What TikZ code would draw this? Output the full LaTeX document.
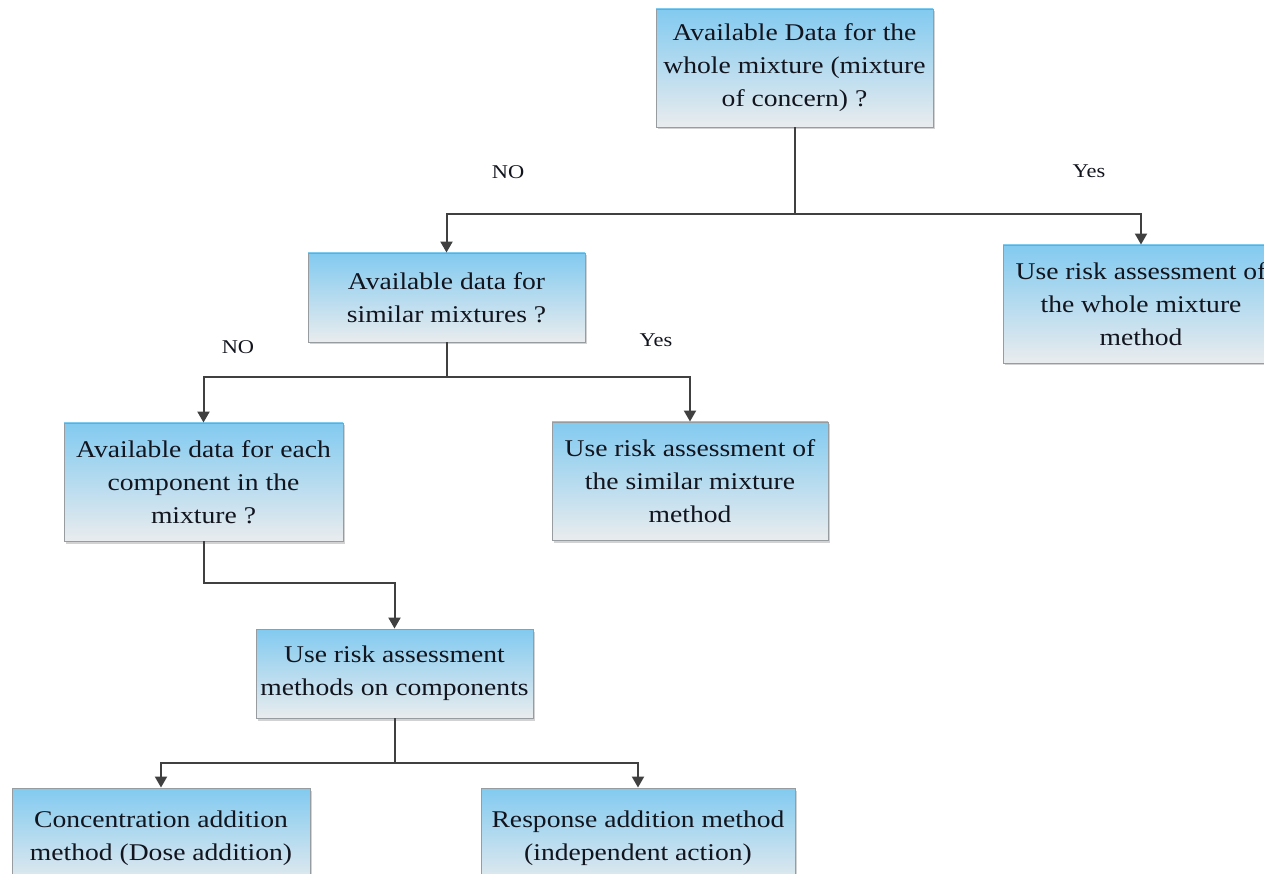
\documentclass[tikz,border=0pt]{standalone}
\usepackage{fontspec}
\setmainfont{Liberation Serif}[FakeStretch=1.15]
\usetikzlibrary{arrows.meta,shadows}

\definecolor{boxtop}{RGB}{130,202,240}
\definecolor{boxbot}{RGB}{233,236,238}
\definecolor{boxline}{RGB}{150,156,160}
\definecolor{wire}{RGB}{64,64,64}
\definecolor{ink}{RGB}{18,20,30}

\tikzset{
  flowbox/.style={rectangle, draw=boxline, line width=0.9pt,
    top color=boxtop, bottom color=boxbot, align=center, text=ink,
    font=\fontsize{24}{33}\selectfont, inner sep=0pt,
    drop shadow={shadow xshift=2pt, shadow yshift=-2.5pt, opacity=0.35, fill=gray}},
  answer/.style={font=\fontsize{19.5}{22}\selectfont, text=ink, inner sep=0pt},
  wireline/.style={draw=wire, line width=2pt},
  wirearrow/.style={wireline, -{Triangle[width=12pt,length=11pt]}}
}

\begin{document}
\begin{tikzpicture}[x=1pt,y=-1pt]
\useasboundingbox (0,0) rectangle (1264,874);
\clip (0,0) rectangle (1264,874);
\fill[white] (0,0) rectangle (1264,874);

% decision and outcome boxes
\node[flowbox, minimum width=277pt, minimum height=118pt] (whole) at (794.5,68)
  {Available Data for the\\whole mixture (mixture\\of concern) ?};
\node[flowbox, minimum width=276pt, minimum height=118pt] (usewhole) at (1141,304)
  {Use risk assessment of\\the whole mixture\\method};
\node[flowbox, minimum width=277pt, minimum height=89pt] (similar) at (446.5,297.5)
  {Available data for\\similar mixtures ?};
\node[flowbox, minimum width=279pt, minimum height=118pt] (each) at (203.5,482)
  {Available data for each\\component in the\\mixture ?};
\node[flowbox, minimum width=276pt, minimum height=118pt] (usesimilar) at (690,481)
  {Use risk assessment of\\the similar mixture\\method};
\node[flowbox, minimum width=277pt, minimum height=89pt] (components) at (394.5,673.5)
  {Use risk assessment\\methods on components};
\node[flowbox, minimum width=298pt, minimum height=100pt] (conc) at (161,838)
  {Concentration addition\\method (Dose addition)};
\node[flowbox, minimum width=314pt, minimum height=100pt] (resp) at (638,838)
  {Response addition method\\(independent action)};

% branch points
\coordinate (j1) at (794.5,214);
\coordinate (j2) at (446.5,377);
\coordinate (j3) at (203.5,583);
\coordinate (j4) at (394.5,763);

% connectors
\draw[wireline] (whole.south) -- (j1);
\draw[wirearrow] (j1) -| (similar.north);
\draw[wirearrow] (j1) -| (usewhole.north);

\draw[wireline] (similar.south) -- (j2);
\draw[wirearrow] (j2) -| (each.north);
\draw[wirearrow] (j2) -| (usesimilar.north);

\draw[wirearrow] (each.south) -- (j3) -| (components.north);

\draw[wireline] (components.south) -- (j4);
\draw[wirearrow] (j4) -| (conc.north);
\draw[wirearrow] (j4) -| (resp.north);

% branch labels
\node[answer] (no1) at (508,172) {NO};
\node[answer] (yes1) at (1089,171) {Yes};
\node[answer] (no2) at (238,347) {NO};
\node[answer] (yes2) at (656,340) {Yes};
\end{tikzpicture}
\end{document}
